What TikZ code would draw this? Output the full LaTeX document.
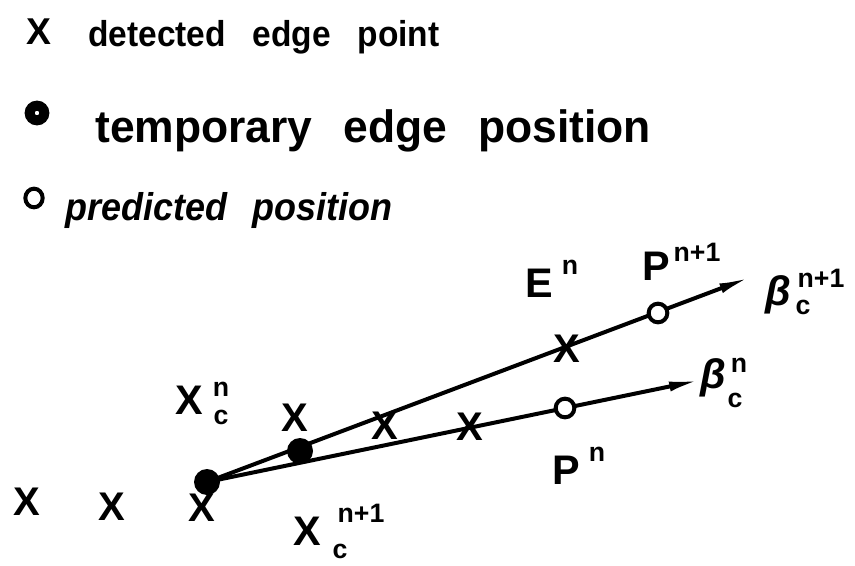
\documentclass[tikz,border=0pt]{standalone}
\usepackage{graphicx}
\usepackage{fontspec}
\setmainfont{Liberation Sans}
\usetikzlibrary{arrows.meta,shapes.geometric}
\begin{document}
\begin{tikzpicture}[x=0.75pt,y=-0.75pt,
  every node/.style={inner sep=0pt},
  legendtxt/.style={anchor=base west},
  base/.style={font=\fontsize{31}{31}\selectfont\bfseries},
  idx/.style={font=\fontsize{20}{20}\selectfont\bfseries},
  xmark/.style={font=\fontsize{30}{30}\selectfont\bfseries},
  tempdot/.style={circle,fill=black,minimum size=19.5pt},
  preddot/.style={circle,draw=black,fill=white,line width=3pt,minimum size=14pt},
  ray/.style={line width=3pt,-{Latex[length=24pt,width=7.5pt]}}]
\useasboundingbox (0,0) rectangle (855,566);
% legend
\node[font=\fontsize{28}{28}\selectfont\bfseries] (lx) at (39,32) {X};
\node[legendtxt,font=\fontsize{27}{27}\selectfont\bfseries] (lt1) at (88,47)
  {\scalebox{0.93}[1]{detected\hspace{0.8em}edge\hspace{0.8em}point}};
\node[circle,draw=black,line width=7.5pt,minimum size=11pt,fill=white] (ld) at (37,113) {};
\node[legendtxt,font=\fontsize{34}{34}\selectfont\bfseries] (lt2) at (95,143)
  {\scalebox{0.98}[1]{temporary\hspace{0.7em}edge\hspace{0.7em}position}};
\node[ellipse,draw=black,line width=3pt,minimum width=13pt,minimum height=14pt] (lo) at (34,198) {};
\node[legendtxt,font=\fontsize{29}{29}\selectfont\bfseries\itshape] (lt3) at (65,221)
  {\scalebox{0.93}[1]{predicted\hspace{0.7em}position}};
% points
\coordinate (o) at (207,482);
\coordinate (b1) at (751,277);
\coordinate (b0) at (701,380);
\draw[ray] (o) -- (b1);
\draw[ray] (o) -- (b0);
\node[tempdot] (d1) at (o) {};
\node[tempdot] (d2) at (300,451) {};
\node[preddot] (p1) at (658,313) {};
\node[preddot] (p0) at (565,408) {};
% X marks
\node[xmark] (x1) at (27,502) {X};
\node[xmark] (x2) at (112,507) {X};
\node[xmark] (x3) at (202,508) {X};
\node[xmark] (x4) at (295,418) {X};
\node[xmark] (x5) at (385,426) {X};
\node[xmark] (x6) at (470,427) {X};
\node[xmark] (x7) at (567,349) {X};
% labels
\node[base] (lxcn) at (189,400) {X};
\node[idx] (lxcn-s) at (221,389) {n};
\node[idx] (lxcn-c) at (221,417) {c};
\node[base] (lxcn1) at (307,531) {X};
\node[idx] (lxcn1-s) at (361,513) {n+1};
\node[idx] (lxcn1-c) at (340,551) {c};
\node[base] (len) at (539,283) {E};
\node[idx] (len-s) at (570,267) {n};
\node[base] (lpn1) at (656,266) {P};
\node[idx] (lpn1-s) at (697,252) {n+1};
\node[base,font=\fontsize{31}{31}\selectfont\bfseries\itshape] (lbn1) at (778,295) {β};
\node[idx] (lbn1-s) at (821,278) {n+1};
\node[idx] (lbn1-c) at (803,307) {c};
\node[base,font=\fontsize{31}{31}\selectfont\bfseries\itshape] (lbn) at (713,378) {β};
\node[idx] (lbn-s) at (739,365) {n};
\node[idx] (lbn-c) at (735,400) {c};
\node[base] (lpn) at (566,470) {P};
\node[idx] (lpn-s) at (597,454) {n};
\end{tikzpicture}
\end{document}
